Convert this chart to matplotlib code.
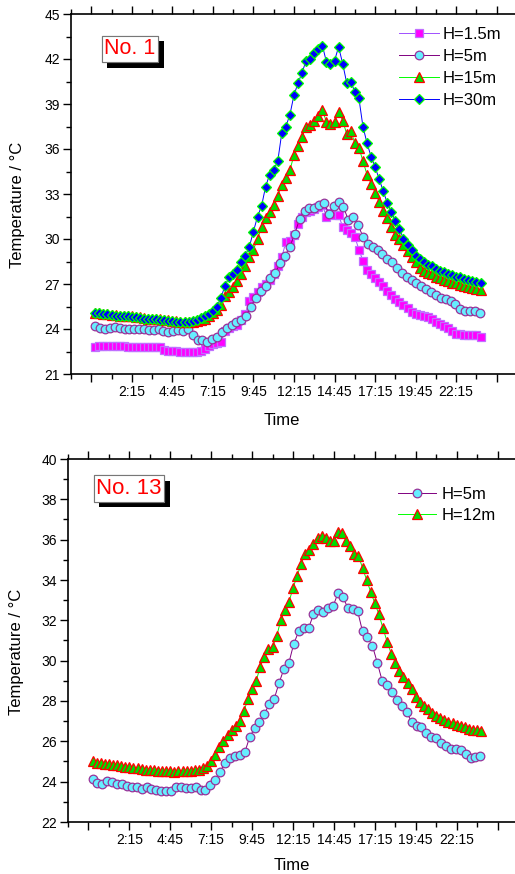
import numpy as np
import matplotlib
matplotlib.use("Agg")
import matplotlib.pyplot as plt
from matplotlib import patheffects

plt.rcParams['font.family'] = ['Liberation Sans', 'DejaVu Sans']

# ---- data: panel No. 1 (15 min steps for squares/triangles/diamonds, 18 min for circles)
t15 = np.arange(96) * 0.25
t18 = np.arange(80) * 0.3

h1_5 = [22.8, 22.85, 22.9, 22.9, 22.9, 22.85, 22.85, 22.9,
        22.8, 22.8, 22.8, 22.8, 22.8, 22.8, 22.8, 22.8,
        22.8, 22.6, 22.55, 22.55, 22.55, 22.5, 22.5, 22.5,
        22.5, 22.5, 22.55, 22.65, 22.85, 23.0, 23.1, 23.15,
        23.9, 24.05, 24.2, 24.3, 24.6, 25.0, 25.9, 26.15,
        26.5, 26.8, 27.0, 27.3, 27.7, 28.2, 28.8, 29.8,
        29.9, 30.3, 31.0, 31.5, 31.8, 31.9, 32.0, 32.15,
        32.25, 31.5, 31.75, 31.6, 31.6, 30.8, 30.6, 30.4,
        30.15, 29.3, 28.55, 27.95, 27.7, 27.4, 27.15, 26.85,
        26.55, 26.3, 26.0, 25.8, 25.6, 25.4, 25.15, 25.0,
        24.95, 24.85, 24.8, 24.7, 24.5, 24.35, 24.2, 24.05,
        23.9, 23.7, 23.65, 23.6, 23.6, 23.6, 23.6, 23.5]

h5 = [24.2, 24.05, 24.0, 24.1, 24.15, 24.1, 24.0, 24.0, 24.0, 24.0,
      24.0, 23.95, 23.95, 24.0, 23.9, 23.8, 23.85, 23.95, 23.9, 24.0,
      23.6, 23.3, 23.25, 23.15, 23.35, 23.5, 23.8, 24.1, 24.3, 24.5,
      24.6, 24.9, 25.5, 26.1, 26.55, 26.9, 27.4, 27.75, 28.4, 28.9,
      29.5, 30.35, 31.35, 31.9, 32.05, 32.05, 32.3, 32.4, 31.7, 32.2,
      32.5, 32.15, 31.25, 31.45, 30.95, 30.15, 29.65, 29.5, 29.3, 29.0,
      28.7, 28.5, 28.1, 27.75, 27.5, 27.3, 27.1, 26.85, 26.7, 26.5,
      26.3, 26.1, 26.0, 25.9, 25.65, 25.35, 25.2, 25.2, 25.2, 25.1]

h15 = [25.1, 25.05, 25.0, 25.0, 24.95, 24.95, 24.9, 24.9,
       24.85, 24.85, 24.8, 24.8, 24.75, 24.7, 24.7, 24.65,
       24.65, 24.6, 24.6, 24.55, 24.55, 24.5, 24.5, 24.5,
       24.5, 24.55, 24.6, 24.7, 24.85, 25.1, 25.3, 25.6,
       26.2, 26.45, 26.8, 27.2, 27.7, 28.2, 28.8, 29.3,
       30.0, 30.8, 31.4, 31.8, 32.3, 32.9, 33.6, 34.1,
       34.6, 35.6, 36.2, 36.8, 37.5, 37.6, 37.9, 38.2,
       38.6, 37.8, 37.7, 37.8, 38.5, 37.9, 37.0, 37.2,
       36.4, 36.1, 35.2, 34.3, 33.7, 33.1, 32.5, 31.9,
       31.4, 30.8, 30.3, 30.0, 29.6, 29.2, 28.8, 28.5,
       28.1, 27.9, 27.75, 27.65, 27.5, 27.4, 27.3, 27.2,
       27.1, 27.05, 26.95, 26.9, 26.8, 26.75, 26.7, 26.6]

h30 = [25.1, 25.05, 25.0, 25.0, 24.95, 24.9, 24.9, 24.85,
       24.85, 24.8, 24.8, 24.75, 24.7, 24.7, 24.65, 24.65,
       24.6, 24.6, 24.55, 24.55, 24.5, 24.5, 24.5, 24.5,
       24.55, 24.6, 24.75, 24.85, 25.0, 25.2, 25.5, 26.1,
       26.9, 27.45, 27.7, 27.95, 28.5, 28.9, 29.5, 30.5,
       31.5, 32.2, 33.5, 34.3, 34.6, 35.2, 37.1, 37.5,
       38.3, 39.6, 40.4, 41.1, 41.9, 42.0, 42.4, 42.7,
       42.9, 41.8, 41.7, 41.9, 42.8, 41.7, 40.4, 40.5,
       39.8, 39.4, 37.5, 36.4, 35.5, 34.8, 34.0, 33.2,
       32.4, 31.8, 31.2, 30.7, 30.0, 29.6, 29.3, 28.9,
       28.65, 28.45, 28.3, 28.2, 28.0, 27.9, 27.8, 27.7,
       27.6, 27.5, 27.45, 27.35, 27.3, 27.2, 27.15, 27.05]

# ---- data: panel No. 13
b_h5 = [24.15, 23.95, 23.9, 24.05, 24.0, 23.9, 23.9, 23.8, 23.72, 23.75,
        23.62, 23.72, 23.62, 23.6, 23.55, 23.55, 23.55, 23.72, 23.75, 23.7,
        23.7, 23.75, 23.57, 23.6, 23.85, 24.1, 24.5, 24.95, 25.15, 25.25,
        25.3, 25.45, 26.2, 26.65, 26.98, 27.35, 27.85, 28.1, 28.9, 29.6,
        29.9, 30.85, 31.45, 31.6, 31.6, 32.3, 32.5, 32.4, 32.6, 32.7,
        33.35, 33.15, 32.62, 32.55, 32.45, 31.45, 31.15, 30.75, 29.9, 29.0,
        28.8, 28.45, 28.05, 27.75, 27.45, 26.95, 26.75, 26.7, 26.4, 26.22,
        26.15, 25.9, 25.75, 25.63, 25.6, 25.55, 25.35, 25.18, 25.22, 25.28]

b_h12 = [25.0, 24.95, 24.95, 24.9, 24.9, 24.85, 24.85, 24.8,
         24.75, 24.75, 24.7, 24.7, 24.65, 24.6, 24.6, 24.6,
         24.55, 24.55, 24.55, 24.55, 24.5, 24.55, 24.55, 24.55,
         24.55, 24.6, 24.6, 24.7, 24.8, 25.0, 25.3, 25.7,
         26.0, 26.3, 26.55, 26.75, 27.0, 27.5, 28.1, 28.6,
         29.0, 29.7, 30.2, 30.6, 30.7, 31.2, 32.0, 32.5,
         32.9, 33.6, 34.2, 34.8, 35.3, 35.5, 35.8, 36.1,
         36.2, 36.1, 35.95, 35.95, 36.4, 36.35, 35.95, 35.7,
         35.3, 35.2, 34.6, 34.0, 33.4, 32.85, 32.3, 31.6,
         30.95, 30.35, 29.9, 29.5, 29.2, 28.9, 28.6, 28.2,
         27.95, 27.75, 27.6, 27.4, 27.25, 27.15, 27.05, 26.95,
         26.9, 26.8, 26.75, 26.7, 26.6, 26.55, 26.55, 26.5]

xtick_pos = [-0.25, 2.25, 4.75, 7.25, 9.75, 12.25, 14.75, 17.25, 19.75, 22.25, 24.75]
xtick_lab = ['', '2:15', '4:45', '7:15', '9:45', '12:15', '14:45', '17:15', '19:45', '22:15', '']

sq = dict(marker='s', ms=5.4, color='#A050FF', mfc='#FF00FF', mec='#C070FF', mew=0.9, lw=0.7)
ci = dict(marker='o', ms=6.2, color='#800080', mfc='#66EEFF', mec='#993399', mew=0.9, lw=0.7)
tr = dict(marker='^', ms=6.8, color='#00FF00', mfc='#00DD00', mec='#FF0000', mew=0.9, lw=0.7)
di = dict(marker='D', ms=4.9, color='#0000FF', mfc='#0000FF', mec='#00FF00', mew=0.9, lw=0.7)

W, H = 515, 874
fig = plt.figure(figsize=(W / 100, H / 100), dpi=100)


def px_axes(left, top, right, bottom):
    return fig.add_axes([left / W, 1 - bottom / H, (right - left) / W, (bottom - top) / H])


def style(ax, ylo, yhi, ystep):
    ax.set_xlim(-1.5, 26.0)
    ax.set_ylim(ylo, yhi)
    ax.set_xticks(xtick_pos)
    ax.set_xticklabels(xtick_lab)
    ax.set_xticks(np.arange(-1.5, 26.1, 2.5), minor=True)
    ax.set_yticks(np.arange(ylo, yhi + 0.1, ystep))
    ax.set_yticks(np.arange(ylo, yhi + 0.1, ystep / 2), minor=True)
    ax.spines['right'].set_visible(False)
    for s in ['left', 'bottom', 'top']:
        ax.spines[s].set_linewidth(1.2)
    ax.tick_params(which='both', direction='out', width=1.0, labelsize=10, pad=2,
                   top=True, labeltop=False)
    ax.tick_params(which='major', length=6)
    ax.tick_params(which='minor', length=3.5)
    ax.set_ylabel('Temperature / \u00b0C', fontsize=12, va='center')
    ax.set_xlabel('Time', fontsize=12, va='center')


def tag(ax, x, y, s, fs):
    t = ax.text(x, y, s, transform=ax.transAxes, ha='center', va='center', color='red',
                fontsize=fs, bbox=dict(boxstyle='square,pad=0.12', fc='white', ec='#777777', lw=0.8))
    t.get_bbox_patch().set_path_effects([
        patheffects.withSimplePatchShadow(offset=(4, -4), shadow_rgbFace='black', alpha=1.0),
        patheffects.Normal()])


# top panel
ax1 = px_axes(71, 14, 517, 374)
ax1.plot(t15, h1_5, label='H=1.5m', **sq)
ax1.plot(t18, h5, label='H=5m', **ci)
ax1.plot(t15, h15, label='H=15m', **tr)
ax1.plot(t15, h30, label='H=30m', **di)
style(ax1, 21, 45, 3)
ax1.yaxis.set_label_coords(-0.12, 0.47)
ax1.xaxis.set_label_coords(0.473, -0.128)
tag(ax1, 0.132, 0.903, 'No. 1', 15.5)
ax1.legend(loc='upper left', bbox_to_anchor=(0.735, 0.964), frameon=False, fontsize=12,
           numpoints=1, handlelength=2.4, handletextpad=0.25, labelspacing=0.42,
           borderpad=0, borderaxespad=0)

# bottom panel
ax2 = px_axes(68, 459, 518, 822)
ax2.plot(t18, b_h5, label='H=5m', **ci)
ax2.plot(t15, b_h12, label='H=12m', **tr)
style(ax2, 22, 40, 2)
ax2.yaxis.set_label_coords(-0.115, 0.468)
ax2.xaxis.set_label_coords(0.498, -0.121)
tag(ax2, 0.1357, 0.9187, 'No. 13', 16)
ax2.legend(loc='upper left', bbox_to_anchor=(0.733, 0.922), frameon=False, fontsize=12,
           numpoints=1, handlelength=2.3, handletextpad=0.3, labelspacing=0.36,
           borderpad=0, borderaxespad=0)

fig.savefig('out.png', dpi=100)
